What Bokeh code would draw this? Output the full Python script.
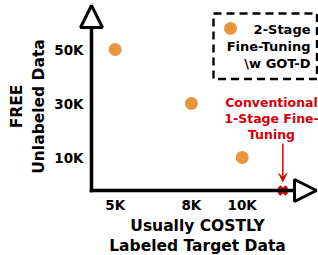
import math
from bokeh.plotting import figure
from bokeh.models import Range1d, Arrow, NormalHead, VeeHead, Label, BoxAnnotation
from bokeh.core.properties import value
from bokeh.embed import file_html
from bokeh.resources import INLINE

# ---- data ----
labeled_k = [5, 8, 10]          # labeled target data (K)
unlabeled_k = [50, 30, 10]      # free unlabeled data (K)
conv_labeled_k = [11.6]         # conventional 1-stage fine-tuning (no unlabeled data)
x_ticks = [5, 8, 10]
x_tick_labels = ["5K", "8K", "10K"]
y_ticks = [10, 30, 50]
y_tick_labels = ["10K", "30K", "50K"]
x_title = ["Usually COSTLY", "Labeled Target Data"]
y_title = ["FREE", "Unlabeled Data"]
legend_lines = ["2-Stage", "Fine-Tuning", "\\w GOT-D"]
conv_lines = ["Conventional", "1-Stage Fine-", "Tuning"]

ORANGE = "#E8963C"
RED = "#D6000A"
FONT = "DejaVu Sans"

W, H = 318, 255
PXK_X, PXK_Y = 25.4, 2.7        # pixels per K
X0 = 5 - 114.7 / PXK_X
X1 = X0 + W / PXK_X
Y1 = 50 + 49 / PXK_Y
Y0 = Y1 - H / PXK_Y

def ix(px):
    return X0 + px / PXK_X

def iy(py):
    return Y1 - py / PXK_Y

AX_X = ix(91)
AX_Y = iy(190)

p = figure(width=W, height=H, output_backend="svg", toolbar_location=None,
           x_range=Range1d(X0, X1), y_range=Range1d(Y0, Y1),
           x_axis_location=None, y_axis_location=None,
           min_border=0, title=None)
p.outline_line_color = None
p.grid.visible = False
p.background_fill_color = "white"

# axes with arrow heads
p.add_layout(Arrow(x_start=AX_X, y_start=AX_Y, x_end=AX_X, y_end=iy(5),
                   line_width=3.5, line_color="black", line_cap="square",
                   end=NormalHead(size=22, fill_color="white", line_color="black", line_width=3)))
p.add_layout(Arrow(x_start=AX_X, y_start=AX_Y, x_end=ix(316), y_end=AX_Y,
                   line_width=3.5, line_color="black", line_cap="square",
                   end=NormalHead(size=22, fill_color="white", line_color="black", line_width=3)))

# tick labels
p.text(x=x_ticks, y=[iy(204)] * len(x_ticks), text=x_tick_labels, text_align="center",
       text_baseline="middle", text_font=value(FONT), text_font_style="bold",
       text_font_size="13.5px", text_color="black")
p.text(x=[ix(83)] * len(y_ticks), y=y_ticks, text=y_tick_labels, text_align="right",
       text_baseline="middle", text_font=value(FONT), text_font_style="bold",
       text_font_size="13.5px", text_color="black")

# data points
p.scatter(labeled_k, unlabeled_k, size=13, color=ORANGE, line_color=None)
p.scatter(conv_labeled_k, [AX_Y] * len(conv_labeled_k), marker="x", size=11,
          line_width=4, line_color=RED)

# conventional annotation
p.add_layout(Arrow(x_start=conv_labeled_k[0], y_start=iy(143), x_end=conv_labeled_k[0], y_end=iy(181),
                   line_width=1.5, line_color=RED,
                   end=VeeHead(size=8, fill_color=RED, line_color=RED, line_width=1)))
for i, t in enumerate(conv_lines):
    p.add_layout(Label(x=ix(271), y=iy(102 + 16 * i), text=t, text_align="center",
                       text_baseline="middle", text_font=FONT, text_font_style="bold",
                       text_font_size="12.5px", text_color=RED))

# legend box
p.add_layout(BoxAnnotation(left=ix(213), right=ix(316.5), top=iy(13), bottom=iy(78.5),
                           fill_color=None, line_color="black", line_alpha=1.0, line_width=2.4,
                           line_dash="8 5"))
p.scatter([ix(230)], [iy(28)], size=13, color=ORANGE, line_color=None)
for i, t in enumerate(legend_lines):
    p.add_layout(Label(x=ix(310), y=iy(29 + 17 * i), text=t, text_align="right",
                       text_baseline="middle", text_font=FONT, text_font_style="bold",
                       text_font_size="13px", text_color="black"))

# axis titles
for i, t in enumerate(x_title):
    p.add_layout(Label(x=ix(197), y=iy(225 + 20 * i), text=t, text_align="center",
                       text_baseline="middle", text_font=FONT, text_font_style="bold",
                       text_font_size="15.5px", text_color="black"))
for i, t in enumerate(y_title):
    p.add_layout(Label(x=ix(16 + 22 * i), y=iy(106), text=t, angle=math.pi / 2,
                       text_align="center", text_baseline="middle", text_font=FONT,
                       text_font_style="bold", text_font_size="15.5px", text_color="black"))

open("out.html", "w").write(file_html(p, INLINE))
